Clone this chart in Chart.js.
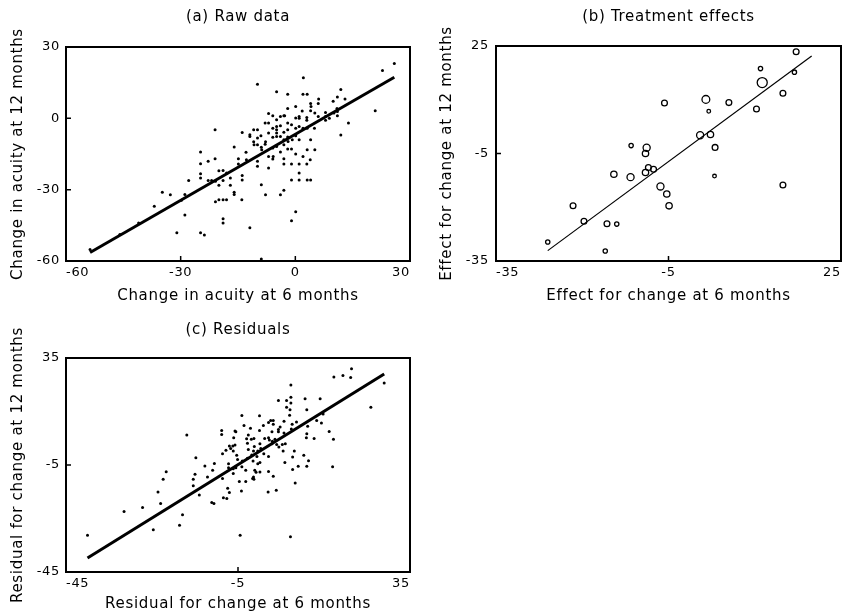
<!DOCTYPE html>
<html>
<head>
<meta charset="utf-8">
<script src="https://cdn.jsdelivr.net/npm/chart.js@4.4.1/dist/chart.umd.min.js"></script>
<style>
  html, body { margin: 0; padding: 0; background: #fff; }
  #wrap { position: relative; width: 851px; height: 613px; overflow: hidden; }
  canvas { position: absolute; }
</style>
</head>
<body>
<div id="wrap">
  <canvas id="panelA" width="425" height="310" style="left:0;top:0"></canvas>
  <canvas id="panelB" width="426" height="310" style="left:425px;top:0"></canvas>
  <canvas id="panelC" width="425" height="303" style="left:0;top:310px"></canvas>
</div>
<script>
// ---- (a) Raw data: change in acuity at 6 and 12 months ----
const rawX6 = [
  25.9, 22.8, 20.9, 13.9, 11.9, 13.0, 11.9, 9.9, 11.0, 10.9, 11.0, 11.0, 10.1, 7.9, 7.9, 7.9, 8.9, 6.1, 6.0, 4.0,
  4.1, 6.0, 5.1, 4.0, 2.1, 2.0, 3.1, 0.1, 1.8, 3.0, 3.0, 1.0, 1.0, 0.1, 1.0, 0.1, 2.0, 3.1, 5.0, 4.0,
  3.1, 5.1, 0.1, -0.8, 1.0, -1.0, 0.1, 2.0, 3.9, -1.0, 1.0, 3.0, 1.0, 1.0, -1.0, 3.1, 4.0, 0.1, -1.0, -2.0,
  -2.0, -2.0, -2.0, -2.0, -3.0, -3.0, -3.9, -3.9, -3.9, -4.9, -4.9, -4.9, -4.9, -4.9, -4.9, -5.9, -5.9, -5.9, -7.0, -7.0,
  -7.0, -7.8, -7.9, -8.8, -9.9, -10.9, -10.9, -11.9, -11.9, -9.9, -13.9, -12.9, -9.9, -9.9, -8.9, -7.0, -7.0, -5.9, -3.9, -3.0,
  -3.0, -2.0, -8.9, -7.8, -3.9, -3.0, -9.9, -5.8, -14.9, -14.9, -13.9, -13.9, -16.0, -16.0, -16.0, -17.0, -17.0, -18.0, -18.0, -18.9,
  -20.0, -18.9, -18.9, -20.0, -18.9, -18.9, -20.0, -21.0, -21.0, -20.9, -20.9, -21.9, -22.8, -24.8, -24.8, -24.8, -24.8, -22.8, -27.9, -28.9,
  -28.9, -31.0, -29.8, -32.7, -34.8, -36.9, -41.0, -45.9, -53.7, -14.0, -11.9, -8.9, -24.8, -23.8, -2.8, -1.0, -5.9, -3.0, -7.9, -9.9,
  -9.0, -10.8, -1.9, -3.0, -4.9, -12.8
];
const rawY12 = [
  23.1, 20.1, 3.2, -2.0, 12.1, 8.1, -7.0, 7.2, 9.0, 4.1, 2.9, 1.1, 2.2, 2.5, 0.8, -0.8, 0.0, 8.1, 6.2, 6.2,
  5.0, 0.8, 2.2, 3.2, 17.1, 10.1, 10.1, 5.0, 3.1, 0.3, -0.8, 0.8, 0.0, 0.1, -3.4, -4.2, -4.2, -4.2, -4.2, -9.0,
  -13.2, -13.2, -7.3, -9.0, -9.0, -12.9, -15.0, -16.0, -17.4, -19.2, -19.2, -19.2, -23.0, -25.9, -25.9, -25.9, -25.9, -39.3, -43.1, 10.1,
  4.1, -2.0, -4.8, -7.9, -5.9, -9.0, 0.8, -3.1, -7.6, 11.2, -0.6, -3.4, -4.8, -6.2, -7.6, -4.2, -8.0, -12.5, 2.0, -2.0,
  -6.2, -9.8, -10.9, -13.2, -4.8, -4.8, -9.8, -7.6, -6.9, 14.3, -6.0, -14.3, -11.1, -18.1, -12.2, -16.0, -20.9, -17.1, -14.2, -17.0,
  -19.2, -12.9, -27.9, -32.1, -32.1, -30.2, -20.2, -16.0, -17.0, -19.2, -24.0, -25.9, -12.1, -31.1, -32.0, -28.1, -25.1, -23.0, -34.2, -34.2,
  -34.2, -42.2, -44.0, -28.1, -26.1, -21.9, -22.0, -4.8, -17.0, -35.1, -26.5, -26.1, -26.1, -14.2, -19.1, -23.3, -25.1, -18.1, -26.1, -32.0,
  -40.7, -48.1, -34.5, -32.1, -31.1, -37.0, -44.0, -48.9, -55.2, -34.2, -46.0, -59.2, -48.1, -49.1, 1.1, -2.7, 1.1, 1.1, -2.0, -8.3,
  -7.3, -11.1, -9.7, -11.1, -11.8, -17.4
];
const rawFitX = [-53.7, 25.9];
const rawFitY = [-56.4, 17.3];
const rawTicks = [-60, -30, 0, 30];

// ---- (b) Treatment effects, circle area follows the study weight ----
const effX6 = [
  17.2, 16.9, 11.0, 11.3, 14.9, 10.3, 5.5, 1.5, 2.0, -5.7, 0.5, 2.3, 3.1, 3.0, 14.9, -8.8,
  -9.0, -11.5, -8.5, -9.0, -7.6, -11.6, -14.5, -6.4, -5.3, -4.9, -21.6, -19.7, -15.7, -14.0, -26.0, -16.0
];
const effY12 = [
  23.4, 17.7, 18.7, 14.8, 11.8, 7.4, 9.2, 10.1, 6.8, 9.1, 0.1, 0.3, -3.3, -11.3, -13.8, -3.4,
  -5.0, -2.8, -8.9, -10.3, -9.4, -11.6, -10.8, -14.2, -16.3, -19.6, -19.6, -23.9, -24.6, -24.7, -29.7, -32.2
];
const effWeight = [
  1.0, 0.55, 0.55, 3.0, 1.0, 1.0, 1.0, 1.8, 0.4, 1.0, 1.5, 1.2, 1.0, 0.4, 1.0, 1.5,
  1.2, 0.55, 1.0, 1.2, 1.0, 1.5, 1.2, 1.5, 1.2, 1.2, 1.0, 1.0, 1.0, 0.55, 0.55, 0.55
];
const effFitX = [-26.0, 19.9];
const effFitY = [-32.1, 22.2];
const effTicks = [-35, -5, 25];

// ---- (c) Residuals ----
const resX6 = [
  21.4, 19.4, 17.3, 21.2, 29.0, 25.9, 17.0, 16.2, 17.2, 14.1, 10.6, 11.0, 14.8, 13.3, 14.4, 11.2, 11.0, 10.9, 12.7, 10.3,
  11.4, 11.0, 9.0, 8.1, 8.3, 7.3, 6.3, 7.3, 7.3, 6.3, 7.1, 7.0, 8.6, 7.6, 7.4, 5.7, 5.7, 4.8, 4.4, 3.2,
  2.6, 2.1, 3.2, 4.4, 4.4, 2.9, 2.1, 1.2, 2.3, 3.0, 2.9, 4.5, 5.3, 6.0, 5.5, 7.7, 5.9, 7.7, 3.9, 2.0,
  3.2, 2.1, 2.1, 1.0, 0.3, 0.1, 0.0, 0.0, 0.9, -0.4, -0.6, 0.1, -0.4, -0.8, 0.1, -1.4, -1.3, -1.6, -1.1, -1.5,
  -1.4, -1.2, -1.3, -2.1, -2.6, -3.0, -2.8, -2.6, -1.8, -2.8, -3.2, -3.2, -3.6, -4.1, -4.0, -4.1, -4.2, -4.7, -5.1, -5.5,
  -5.3, -6.1, -5.7, -6.0, -5.5, -6.2, -6.7, -7.0, -7.2, -7.2, -7.4, -7.0, -7.6, -8.4, -8.6, -8.8, -8.8, -8.6, -7.8, -6.1,
  -6.1, -5.7, -10.5, -12.1, -10.9, -12.7, -14.0, -14.8, -15.0, -15.4, -15.4, -16.9, -11.1, -10.6, -17.9, -18.6, -21.7, -22.4, -23.6, -23.0,
  -24.7, -27.2, -31.5, -40.0, -4.5, 7.2, 4.0, 3.6, -1.9
];
const resY12 = [
  31.0, 28.5, 27.9, 27.7, 25.7, 16.6, -5.7, 7.5, 4.6, 19.8, 19.8, 15.7, 14.1, 11.6, 10.7, 9.5, 6.7, 5.2, 4.9, -1.4,
  -3.4, -5.5, -5.5, 0.2, -11.7, 24.9, 19.1, 20.3, 18.2, 16.6, 15.7, 13.6, 11.1, 10.2, 8.5, 11.4, 7.0, 9.2, 19.1, 11.6,
  11.6, 10.9, 10.2, 8.3, 7.4, 7.4, 5.2, 4.9, 4.3, 3.9, 2.9, 1.7, 2.7, 2.9, 0.2, -2.0, -4.1, -6.7, -14.4, -15.1,
  -9.2, -7.4, -1.8, -0.8, 1.2, 2.9, 7.9, 13.4, 9.8, 0.2, -1.8, -4.1, -4.5, -7.7, -7.6, -9.5, -10.3, -10.0, -7.0, -3.5,
  0.2, 1.9, 4.9, 8.7, 6.2, 4.8, 3.1, 0.8, -1.3, -2.5, -7.0, -11.2, 9.8, 13.5, -3.5, -5.7, -14.7, -11.2, -2.9, -6.0,
  -1.4, 0.2, 2.5, 5.2, 7.4, 2.1, 1.2, 2.1, -4.5, -6.0, -13.7, -15.3, -17.5, -17.2, -10.0, 7.9, 6.4, -0.8, 0.5, -8.2,
  -6.4, 7.7, -4.4, -9.5, -7.0, -5.4, -16.2, -2.3, -8.5, -10.3, -12.8, 6.2, -19.0, -19.4, -23.6, -27.5, -7.5, -10.3, -15.1, -19.4,
  -29.2, -20.9, -22.4, -31.3, -31.3, -31.8, 2.7, 4.6, 4.6
];
const resFitX = [-40.0, 29.0];
const resFitY = [-39.8, 29.0];
const resTicks = [-45, -5, 35];

const FONT = 'DejaVu Sans';
const toPoints = (xs, ys) => xs.map((x, i) => ({ x: x, y: ys[i] }));

// Box around the plotting region plus short inward tick marks
const framePlugin = {
  id: 'frame',
  beforeLayout(chart) { chart.ctx.letterSpacing = '0.7px'; },
  afterDatasetsDraw(chart) {
    const { ctx, chartArea: a, scales } = chart;
    ctx.save();
    ctx.strokeStyle = '#000';
    ctx.lineWidth = 1.5;
    ctx.beginPath();
    scales.x.ticks.forEach(t => {
      const px = scales.x.getPixelForValue(t.value);
      ctx.moveTo(px, a.bottom); ctx.lineTo(px, a.bottom - 5);
    });
    scales.y.ticks.forEach(t => {
      const py = scales.y.getPixelForValue(t.value);
      ctx.moveTo(a.left, py); ctx.lineTo(a.left + 5, py);
    });
    ctx.stroke();
    ctx.lineWidth = 2;
    ctx.strokeRect(a.left, a.top, a.right - a.left, a.bottom - a.top);
    ctx.restore();
  }
};

function axis(ticks, titleText, o) {
  return {
    type: 'linear',
    min: ticks[0],
    max: ticks[ticks.length - 1],
    afterBuildTicks: s => { s.ticks = ticks.map(v => ({ value: v })); },
    afterFit: o.fit,
    grid: { display: false, drawTicks: false },
    border: { display: false },
    ticks: {
      color: '#000',
      padding: o.tickPad,
      align: o.align || 'center',
      font: { family: FONT, size: 13 },
      callback: v => String(v)
    },
    title: {
      display: true,
      text: titleText,
      color: '#000',
      font: { family: FONT, size: 15 },
      padding: o.titlePad
    }
  };
}

function panel(id, cfg) {
  return new Chart(document.getElementById(id), {
    type: 'scatter',
    data: {
      datasets: [
        {
          type: 'line',
          data: toPoints(cfg.fitX, cfg.fitY),
          borderColor: '#000',
          borderWidth: cfg.fitWidth,
          pointRadius: 0,
          fill: false
        },
        {
          data: toPoints(cfg.xs, cfg.ys),
          pointRadius: cfg.radius,
          pointBorderWidth: cfg.hollow ? 1.3 : 0,
          pointBorderColor: '#000',
          pointBackgroundColor: cfg.hollow ? 'rgba(0,0,0,0)' : '#000'
        }
      ]
    },
    options: {
      responsive: false,
      animation: false,
      events: [],
      layout: { padding: cfg.pad },
      plugins: {
        legend: { display: false },
        tooltip: { enabled: false },
        title: {
          display: true,
          text: cfg.title,
          fullSize: false,
          color: '#000',
          font: { family: FONT, size: 15, weight: 'normal' },
          padding: cfg.titlePad
        }
      },
      scales: {
        x: axis(cfg.ticks, cfg.xTitle, {
          fit: s => { s.height = cfg.xHeight; },
          tickPad: 4, align: 'inner',
          titlePad: { top: 0, bottom: cfg.xTitleBottom }
        }),
        y: axis(cfg.ticks, cfg.yTitle, {
          fit: s => { s.width = cfg.yWidth; },
          tickPad: cfg.yTickPad,
          titlePad: { top: cfg.yTitleTop, bottom: 0 }
        })
      }
    },
    plugins: [framePlugin]
  });
}

panel('panelA', {
  title: '(a) Raw data',
  xTitle: 'Change in acuity at 6 months',
  yTitle: 'Change in acuity at 12 months',
  xs: rawX6, ys: rawY12, fitX: rawFitX, fitY: rawFitY, ticks: rawTicks,
  radius: 1.5, hollow: false, fitWidth: 3,
  pad: { left: 0, right: 15, top: 0, bottom: 0 },
  titlePad: { top: 8, bottom: 21 },
  xHeight: 49, xTitleBottom: 5,
  yWidth: 66, yTickPad: 6, yTitleTop: 9
});

panel('panelB', {
  title: '(b) Treatment effects',
  xTitle: 'Effect for change at 6 months',
  yTitle: 'Effect for change at 12 months',
  xs: effX6, ys: effY12, fitX: effFitX, fitY: effFitY, ticks: effTicks,
  radius: ctx => 2.9 * Math.sqrt(effWeight[ctx.dataIndex] || 1),
  hollow: true, fitWidth: 1.2,
  pad: { left: 0, right: 10, top: 0, bottom: 0 },
  titlePad: { top: 8, bottom: 20 },
  xHeight: 49, xTitleBottom: 5,
  yWidth: 71, yTickPad: 7, yTitleTop: 13
});

panel('panelC', {
  title: '(c) Residuals',
  xTitle: 'Residual for change at 6 months',
  yTitle: 'Residual for change at 12 months',
  xs: resX6, ys: resY12, fitX: resFitX, fitY: resFitY, ticks: resTicks,
  radius: 1.5, hollow: false, fitWidth: 3,
  pad: { left: 0, right: 15, top: 0, bottom: 0 },
  titlePad: { top: 11, bottom: 19 },
  xHeight: 41, xTitleBottom: 0,
  yWidth: 66, yTickPad: 6, yTitleTop: 9
});
</script>
</body>
</html>
